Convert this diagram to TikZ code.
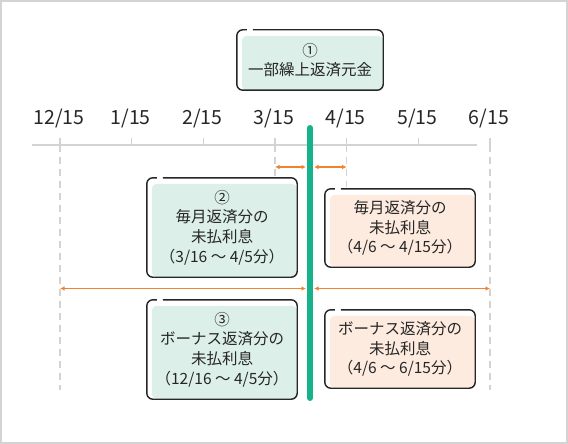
\documentclass[tikz,border=0pt]{standalone}
\usepackage{fontspec}
\setmainfont{Noto Sans CJK JP}
\usetikzlibrary{arrows.meta,backgrounds}

\definecolor{ink}{HTML}{262626}
\definecolor{rule}{HTML}{D3D3D3}
\definecolor{mint}{HTML}{DCEFE8}
\definecolor{peach}{HTML}{FDEBDF}
\definecolor{bar}{HTML}{16B28A}
\definecolor{span}{HTML}{F08232}

\tikzset{
  memo/.style={inner sep=0pt, align=center, text=ink,
    font=\fontsize{15.5}{19.6}\selectfont},
  edge/.style={ink, line width=1.4pt, rounded corners=6pt},
  spanarrow/.style={span, line width=1.6pt, {Latex[length=4.5pt,width=4.5pt]}-{Latex[length=4.5pt,width=4.5pt]}},
  guide/.style={rule, line width=1.6pt, dash pattern=on 7pt off 5pt},
}

% fill offset inside, frame with a small gap at the top left
\newcommand\memobox[2]{%
  \begin{scope}[on background layer]
    \fill[#2, rounded corners=5pt] ([shift={(5,6)}]#1.north west) rectangle (#1.south east);
  \end{scope}
  \draw[edge] ([xshift=16]#1.north west) -- (#1.north east) -- (#1.south east)
    -- (#1.south west) -- (#1.north west) -- ([xshift=10]#1.north west);
}

\begin{document}
\begin{tikzpicture}[x=1pt, y=-1pt]
\useasboundingbox (0,0) rectangle (568,444);
\draw[rule, line width=2.5pt] (1.2,1.2) rectangle (566.8,442.8);

% time axis
\draw[rule, line width=2pt] (32,145) -- (477,145);
\foreach \lab [count=\i from 0] in {12/15,1/15,2/15,3/15,4/15,5/15,6/15} {
  \coordinate (d\i) at (60+71.67*\i,145);
  \draw[rule, line width=1.6pt] (d\i) -- ++(0,-7);
  \node[anchor=base, text=ink, font=\fontsize{19.5}{19.5}\selectfont] (lab\i) at (59+71.67*\i,124.5) {\lab};
}
\draw[guide] (d0) -- ++(0,245);
\draw[guide] (d3) -- ++(0,33);
\draw[guide] (d4) -- ++(0,42);
\draw[guide] (d6) -- ++(0,245);

% boxes
\node[memo, minimum width=146, minimum height=60] (ret) at (310,60) {①\\一部繰上返済元金};
\node[memo, minimum width=150, minimum height=99] (mon) at (222,227.5) {②\\毎月返済分の\\未払利息\\（3/16 ～ 4/5分）};
\node[memo, minimum width=150, minimum height=78] (monnext) at (400,228) {毎月返済分の\\未払利息\\（4/6 ～ 4/15分）};
\node[memo, minimum width=150, minimum height=99] (bon) at (222,349.5) {③\\ボーナス返済分の\\未払利息\\（12/16 ～ 4/5分）};
\node[memo, minimum width=150, minimum height=78] (bonnext) at (400,349) {ボーナス返済分の\\未払利息\\（4/6 ～ 6/15分）};
\memobox{ret}{mint}
\memobox{mon}{mint}
\memobox{bon}{mint}
\memobox{monnext}{peach}
\memobox{bonnext}{peach}

% repayment day
\coordinate (bartop) at (310,128);
\coordinate (barbot) at (310,398);
\draw[bar, line width=6pt, line cap=round] (bartop) -- (barbot);

% periods
\coordinate (l1) at (306,167);
\coordinate (r1) at (314,167);
\coordinate (l2) at (306,288.5);
\coordinate (r2) at (314,288.5);
\draw[spanarrow] (d3 |- l1) -- (l1);
\draw[spanarrow] (r1) -- (d4 |- r1);
\draw[spanarrow] (d0 |- l2) -- (l2);
\draw[spanarrow] (r2) -- (d6 |- r2);
\end{tikzpicture}
\end{document}
